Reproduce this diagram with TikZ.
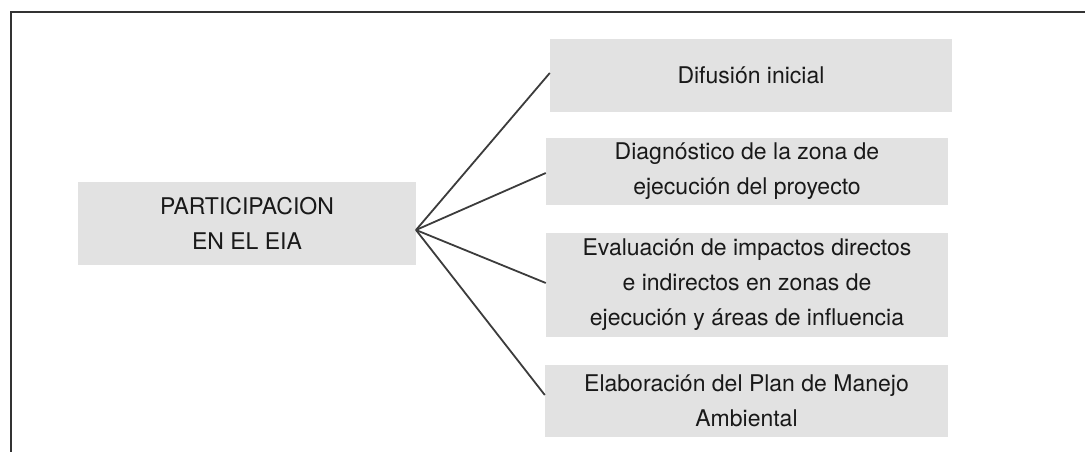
\documentclass[tikz,border=0pt]{standalone}
\usepackage{fontspec}
\setmainfont{TeX Gyre Heros}
\definecolor{boxgray}{RGB}{226,226,226}
\definecolor{linegray}{RGB}{60,60,60}

\begin{document}
\begin{tikzpicture}[x=1pt,y=-1pt,
  box/.style={fill=boxgray, inner sep=0pt, align=center, text=black!90,
    font=\fontsize{23}{35}\selectfont},
  branch/.style={draw=linegray, line width=1.8pt}]
\useasboundingbox (0,0) rectangle (1085,452);
\draw [black!80, line width=2pt] (11,452) -- (11,12) -- (1085,12);

\node [box, minimum width=338pt, minimum height=83pt] (part) at (247,223.5) {PARTICIPACION\\EN EL EIA};

\node [box, minimum width=402pt, minimum height=73pt] (difu) at (751,75.5) {Difusión inicial};
\node [box, minimum width=402pt, minimum height=67pt] (diag) at (747,171.5) {Diagnóstico de la zona de\\ejecución del proyecto};
\node [box, minimum width=402pt, minimum height=104pt] (eval) at (747,285) {Evaluación de impactos directos\\e indirectos en zonas de\\ejecución y áreas de influencia};
\node [box, minimum width=403pt, minimum height=72pt] (elab) at (746.5,401) {Elaboración del Plan de Manejo\\Ambiental};

\coordinate (hub) at (416,230);
\draw [branch] (hub) -- (difu.west |- 0,73);
\draw [branch] (hub) -- (diag.west |- 0,173);
\draw [branch] (hub) -- (eval.west |- 0,283);
\draw [branch] (hub) -- (elab.west |- 0,395);

\end{tikzpicture}
\end{document}
